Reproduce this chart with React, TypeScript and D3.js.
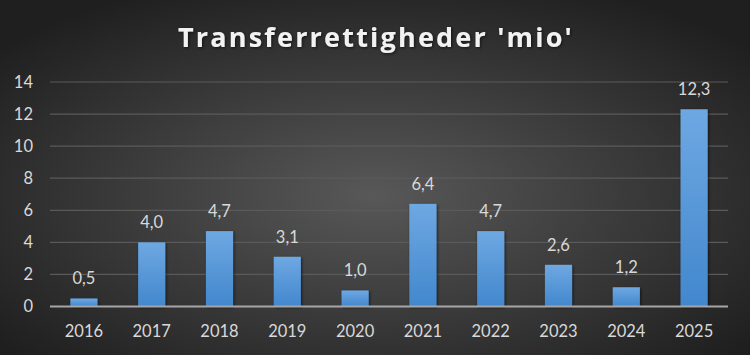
import React from "react";
import * as d3 from "d3";

const years = ["2016", "2017", "2018", "2019", "2020", "2021", "2022", "2023", "2024", "2025"];
const values = [0.5, 4.0, 4.7, 3.1, 1.0, 6.4, 4.7, 2.6, 1.2, 12.3];
const yTicks = [0, 2, 4, 6, 8, 10, 12, 14];
const title = "Transferrettigheder 'mio'";

const W = 750, H = 355;
const M = { left: 50, right: 22, top: 82, bottom: 48.5 };

export default function App() {
  const x = d3.scaleBand().domain(years).range([M.left, W - M.right]).paddingInner(0.6).paddingOuter(0.3);
  const y = d3.scaleLinear().domain([0, 14]).range([H - M.bottom, M.top]);
  const fmt = (v: number) => v.toFixed(1).replace(".", ",");
  const font = "Lato, 'Open Sans', sans-serif";
  return (
    <svg width={W} height={H} style={{ position: "absolute", left: 0, top: 0 }}>
      <defs>
        <radialGradient id="bg" cx="50%" cy="55%" r="65%" fx="50%" fy="55%">
          <stop offset="0%" stopColor="#585858" />
          <stop offset="100%" stopColor="#1f1f1f" />
        </radialGradient>
        <linearGradient id="bar" x1="0" y1="0" x2="0" y2="1">
          <stop offset="0%" stopColor="#6ea8e2" />
          <stop offset="100%" stopColor="#4287cd" />
        </linearGradient>
        <filter id="sh" x="-20%" y="-20%" width="140%" height="140%">
          <feDropShadow dx="1" dy="1" stdDeviation="1.5" floodColor="#000" floodOpacity="0.6" />
        </filter>
      </defs>
      <rect x={0} y={0} width={W} height={H} fill="url(#bg)" />
      <text x={376} y={47} textAnchor="middle" fill="#f2f2f2" fontFamily="'Open Sans', sans-serif" fontWeight="bold" fontSize={27} letterSpacing={2.2} filter="url(#sh)">{title}</text>
      {yTicks.map(t => (
        <g key={t}>
          {t > 0 && <line x1={M.left} x2={W - M.right} y1={y(t)} y2={y(t)} stroke="#5a5a5a" strokeWidth={1.2} />}
          <text x={33} y={y(t)} dy="0.36em" textAnchor="end" fill="#d9d9d9" fontFamily={font} fontSize={16.5}>{t}</text>
        </g>
      ))}
      {years.map((yr, i) => (
        <g key={yr}>
          <rect x={x(yr)} y={y(values[i])} width={x.bandwidth()} height={y(0) - y(values[i])} fill="url(#bar)" filter="url(#sh)" />
          <text x={(x(yr) as number) + x.bandwidth() / 2} y={y(values[i]) - 14} textAnchor="middle" fill="#d9d9d9" fontFamily={font} fontSize={16.5}>{fmt(values[i])}</text>
          <text x={(x(yr) as number) + x.bandwidth() / 2} y={337} textAnchor="middle" fill="#d9d9d9" fontFamily={font} fontSize={16.5}>{yr}</text>
        </g>
      ))}
      <line x1={M.left} x2={W - M.right} y1={y(0)} y2={y(0)} stroke="#a6a6a6" strokeWidth={2} />
    </svg>
  );
}
